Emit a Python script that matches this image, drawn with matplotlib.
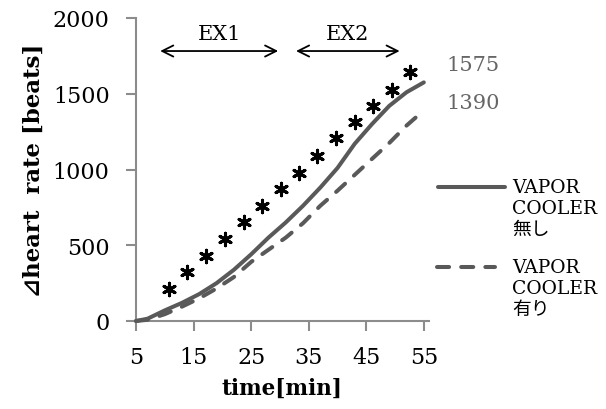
import matplotlib
matplotlib.use("Agg")
import matplotlib.pyplot as plt
from matplotlib.lines import Line2D

# ---- data ----
time_min = [5, 7, 10, 13, 16, 19, 22, 25, 28, 31, 34, 37, 40, 43, 46, 49, 52, 55]
hr_without = [0, 15, 70, 120, 178, 250, 338, 440, 550, 650, 760, 880, 1010, 1170, 1300, 1420, 1510, 1575]
hr_with = [0, 8, 45, 95, 150, 215, 290, 390, 470, 550, 645, 760, 860, 965, 1070, 1175, 1290, 1390]
sig_time = [10.7, 13.9, 17.2, 20.5, 23.7, 26.9, 30.2, 33.4, 36.5, 39.8, 43.1, 46.2, 49.4, 52.6]
sig_value = [211, 323, 429, 541, 653, 759, 871, 977, 1089, 1208, 1313, 1419, 1525, 1643]
end_labels = ["1575", "1390"]
series_labels = ["VAPOR\nCOOLER\n無し", "VAPOR\nCOOLER\n有り"]
xticks = [5, 15, 25, 35, 45, 55]
yticks = [0, 500, 1000, 1500, 2000]
ex_periods = [("EX1", 9.2, 29.7), ("EX2", 32.8, 50.8)]

SERIF = ['DejaVu Serif', 'DejaVu Sans', 'Noto Sans CJK JP']
plt.rcParams['font.family'] = SERIF
LINE_C = '#595959'
AX_C = '#8c8c8c'

fig = plt.figure(figsize=(6.06, 4.10), dpi=100)
ax = fig.add_axes([136/606, 1-322/410, (429-136)/606, (322-19)/410])

ax.plot(time_min, hr_without, color=LINE_C, lw=2.9, solid_capstyle='round', clip_on=False, zorder=3)
ax.plot(time_min, hr_with, color=LINE_C, lw=2.9, linestyle=(0, (3, 3)), dash_capstyle='round', clip_on=False, zorder=3)
ax.scatter(sig_time, sig_value, marker=(6, 2, 0), s=80, color='black', linewidths=2.2, zorder=4)

ax.set_xlim(5, 55.9)
ax.set_ylim(0, 2000)
ax.set_xticks(xticks)
ax.set_yticks(yticks)
for s in ['top', 'right']:
    ax.spines[s].set_visible(False)
for s in ['left', 'bottom']:
    ax.spines[s].set_color(AX_C)
    ax.spines[s].set_linewidth(1.5)
ax.tick_params(axis='both', colors=AX_C, length=7, width=1.5, labelsize=16, labelcolor='black')
ax.tick_params(axis='y', pad=12)
ax.tick_params(axis='x', pad=11)

ax.set_xlabel('time[min]', fontsize=15.5, fontweight='bold', labelpad=6)
ax.set_ylabel('⊿heart  rate [beats]', fontsize=16.5, fontweight='bold', labelpad=6)

# exercise periods
for name, t0, t1 in ex_periods:
    ax.annotate('', xy=(t0, 1782), xytext=(t1, 1782),
                arrowprops=dict(arrowstyle='<->', color='black', lw=1.3,
                                shrinkA=0, shrinkB=0, mutation_scale=20))
    ax.text((t0 + t1) / 2, 1900, name, ha='center', va='center', fontsize=15)

# end value labels
ax.text(59, 1696, end_labels[0], ha='left', va='center', fontsize=15, color='#666666', clip_on=False)
ax.text(59, 1439, end_labels[1], ha='left', va='center', fontsize=15, color='#666666', clip_on=False)

# manual legend
W, H = 606, 410
def fx(px): return px / W
def fy(py): return 1 - py / H
fig.add_artist(Line2D([fx(438), fx(505)], [fy(188), fy(188)], color=LINE_C, lw=2.9,
                      solid_capstyle='round'))
fig.add_artist(Line2D([fx(437), fx(495)], [fy(268), fy(268)], color=LINE_C, lw=2.9,
                      linestyle=(0, (3, 3)), dash_capstyle='round'))
fig.text(fx(512), fy(179), series_labels[0], ha='left', va='top', fontsize=13.5,
         linespacing=1.22, family=SERIF)
fig.text(fx(512), fy(259), series_labels[1], ha='left', va='top', fontsize=13.5,
         linespacing=1.22, family=SERIF)

fig.savefig('out.png', dpi=100)
